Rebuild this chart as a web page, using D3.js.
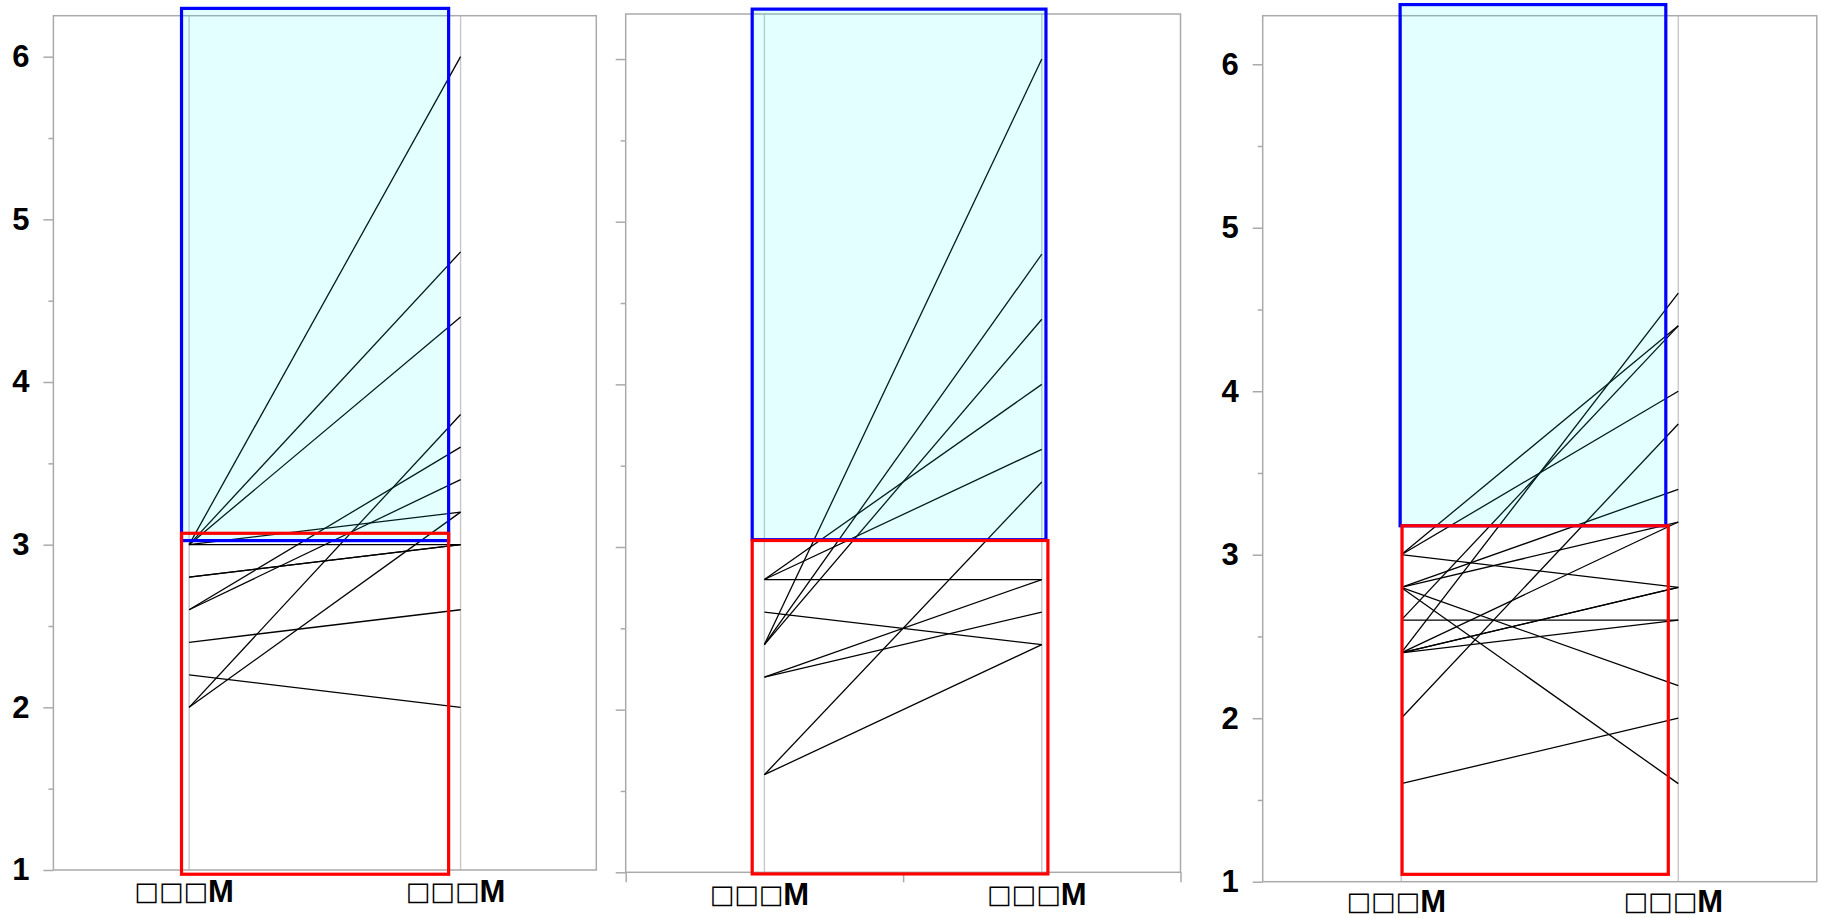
<!DOCTYPE html>
<html>
<head>
<meta charset="utf-8">
<script src="https://cdn.jsdelivr.net/npm/d3@7"></script>
<style>
  body { margin: 0; background: #fff; }
  svg text { font-family: "Liberation Sans", Arial, sans-serif; font-weight: bold; fill: #000; }
  svg tspan.box { font-family: "DejaVu Sans", sans-serif; font-weight: normal; }
</style>
</head>
<body>
<svg id="chart" width="1822" height="918"></svg>
<script>

// categories on the x axis (the original labels show as missing-glyph boxes)
const categories = ["□□□M", "□□□M"]
const majorTicks = [1, 2, 3, 4, 5, 6]
const minorTicks = [1.5, 2.5, 3.5, 4.5, 5.5]

// each line: [value at first category, value at second category]
const lines1 = [[3.0, 6.0], [3.0, 4.8], [3.0, 4.4], [3.0, 3.2], [3.0, 3.0], [2.8, 3.0], [2.8, 3.0],
                [2.6, 3.6], [2.6, 3.4], [2.4, 2.6], [2.2, 2.0], [2.0, 3.8], [2.0, 3.2]]
const lines2 = [[2.8, 2.8], [2.8, 3.6], [2.8, 4.0], [2.6, 2.4], [2.4, 6.0], [2.4, 4.8], [2.4, 4.4],
                [2.2, 2.8], [2.2, 2.6], [1.6, 3.4], [1.6, 2.4]]
const lines3 = [[3.0, 4.4], [3.0, 4.0], [3.0, 2.8], [2.8, 3.4], [2.8, 3.2], [2.8, 2.2], [2.8, 1.6],
                [2.6, 4.4], [2.6, 2.6], [2.4, 4.6], [2.4, 3.2], [2.4, 2.8], [2.4, 2.8], [2.4, 2.6],
                [2.0, 3.8], [1.6, 2.0]]

// highlight boxes: [x from, x to] in category index units, [y low, y high] in values
const blueBox1 = {x: [-0.028, 0.956], y: [3.025, 6.297]}
const redBox1  = {x: [-0.028, 0.956], y: [0.974, 3.07]}
const blueBox2 = {x: [-0.044, 1.015], y: [3.045, 6.307]}
const redBox2  = {x: [-0.044, 1.022], y: [0.99, 3.04]}
const blueBox3 = {x: [-0.004, 0.955], y: [3.177, 6.365]}
const redBox3  = {x: [0.003, 0.964], y: [1.045, 3.177]}

const panels = [
  {left: 53.4, right: 596.3, top: 15.7, bottom: 870, yMax: 6.252, yLabels: true, xTicks: false, labelY: 902,
   lines: lines1, blue: blueBox1, red: redBox1},
  {left: 625.7, right: 1180.5, top: 14, bottom: 872.3, yMax: 6.277, yLabels: false, xTicks: true, labelY: 905,
   lines: lines2, blue: blueBox2, red: redBox2},
  {left: 1262.7, right: 1816.8, top: 15.7, bottom: 881.7, yMax: 6.297, yLabels: true, xTicks: false, labelY: 912,
   lines: lines3, blue: blueBox3, red: redBox3}
]

const svg = d3.select('#chart')
const gray = '#aaaaaa'

panels.forEach(p => {
  const x = d3.scaleLinear().domain([-0.5, 1.5]).range([p.left, p.right])
  const y = d3.scaleLinear().domain([1, p.yMax]).range([p.bottom, p.top])
  const g = svg.append('g')

  // category grid lines
  g.selectAll('line.grid')
    .data(categories)
    .join('line')
      .attr('class', 'grid')
      .attr('x1', (d, i) => x(i)).attr('x2', (d, i) => x(i))
      .attr('y1', p.top).attr('y2', p.bottom)
      .attr('stroke', '#c8c8c8')
      .attr('stroke-width', 1.4)

  // frame
  g.append('rect')
    .attr('x', p.left).attr('y', p.top)
    .attr('width', p.right - p.left).attr('height', p.bottom - p.top)
    .attr('fill', 'none')
    .attr('stroke', gray)
    .attr('stroke-width', 1.5)

  // y axis, major and minor ticks
  const yAxis = g.append('g')
    .attr('transform', `translate(${p.left},0)`)
    .call(d3.axisLeft(y).tickValues(majorTicks).tickSize(10).tickPadding(14)
      .tickFormat(p.yLabels ? d3.format('d') : ''))
  yAxis.select('.domain').remove()
  yAxis.selectAll('line').attr('stroke', gray).attr('stroke-width', 1.5)
  yAxis.selectAll('text').style('font-size', '31px').attr('font-family', null)

  const yMinor = g.append('g')
    .attr('transform', `translate(${p.left},0)`)
    .call(d3.axisLeft(y).tickValues(minorTicks).tickSize(5).tickFormat(''))
  yMinor.select('.domain').remove()
  yMinor.selectAll('line').attr('stroke', gray).attr('stroke-width', 1.5)

  if (p.xTicks) {
    const xAxis = g.append('g')
      .attr('transform', `translate(0,${p.bottom})`)
      .call(d3.axisBottom(x).tickValues([-0.5, 0.5, 1.5]).tickSize(10).tickFormat(''))
    xAxis.select('.domain').remove()
    xAxis.selectAll('line').attr('stroke', gray).attr('stroke-width', 1.5)
  }

  // category labels: box glyphs in one font, the latin letter in bold
  const labels = g.selectAll('text.cat')
    .data(categories)
    .join('text')
      .attr('class', 'cat')
      .attr('x', (d, i) => x(i) - 5)
      .attr('y', p.labelY)
      .attr('text-anchor', 'middle')
      .style('font-size', '31px')
  labels.append('tspan').attr('class', 'box')
    .attr('dy', -2)
    .style('font-size', '26px')
    .text(d => d.replace(/[^□]/g, ''))
  labels.append('tspan')
    .attr('dy', 2)
    .text(d => d.replace(/□/g, ''))

  // paired lines
  g.selectAll('line.pair')
    .data(p.lines)
    .join('line')
      .attr('class', 'pair')
      .attr('x1', x(0)).attr('x2', x(1))
      .attr('y1', d => y(d[0])).attr('y2', d => y(d[1]))
      .attr('stroke', '#000')
      .attr('stroke-width', 1.3)

  // boxes
  g.append('rect')
    .attr('x', x(p.blue.x[0])).attr('width', x(p.blue.x[1]) - x(p.blue.x[0]))
    .attr('y', y(p.blue.y[1])).attr('height', y(p.blue.y[0]) - y(p.blue.y[1]))
    .attr('fill', '#00ffff').attr('fill-opacity', 0.11)
    .attr('stroke', '#0000ff').attr('stroke-width', 3.2)

  g.append('rect')
    .attr('x', x(p.red.x[0])).attr('width', x(p.red.x[1]) - x(p.red.x[0]))
    .attr('y', y(p.red.y[1])).attr('height', y(p.red.y[0]) - y(p.red.y[1]))
    .attr('fill', 'none')
    .attr('stroke', '#ff0000').attr('stroke-width', 3.2)
})

</script>
</body>
</html>
